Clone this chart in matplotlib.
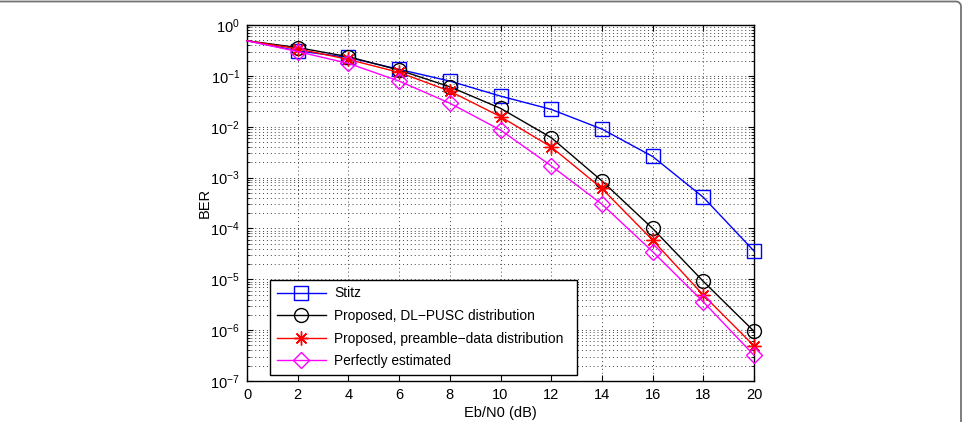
import numpy as np
import matplotlib
matplotlib.use("Agg")
import matplotlib.pyplot as plt
from matplotlib.lines import Line2D
from matplotlib.ticker import LogLocator, NullFormatter, MultipleLocator

plt.rcParams['font.family'] = ['Liberation Sans', 'DejaVu Sans']
plt.rcParams['mathtext.fontset'] = 'custom'
plt.rcParams['mathtext.rm'] = 'Liberation Sans'
plt.rcParams['mathtext.it'] = 'Liberation Sans:italic'

ebn0 = [0, 2, 4, 6, 8, 10, 12, 14, 16, 18, 20]
ber_stitz = [0.49, 0.31, 0.23, 0.134, 0.079, 0.040, 0.0219, 0.0090, 0.0026, 4.1e-4, 3.6e-5]
ber_dlpusc = [0.49, 0.36, 0.238, 0.13, 0.061, 0.023, 0.0061, 8.6e-4, 1.0e-4, 9.1e-6, 9.5e-7]
ber_preamble = [0.49, 0.34, 0.21, 0.117, 0.050, 0.0158, 0.0040, 6.1e-4, 5.9e-5, 4.9e-6, 4.9e-7]
ber_perfect = [0.49, 0.30, 0.176, 0.079, 0.029, 0.0086, 0.0017, 3.0e-4, 3.5e-5, 3.6e-6, 3.2e-7]
labels = ["Stitz", "Proposed, DL\u2212PUSC distribution",
          "Proposed, preamble\u2212data distribution", "Perfectly estimated"]

W, H = 966, 422
fig = plt.figure(figsize=(W / 100, H / 100), dpi=100)
ax = fig.add_axes([247 / W, (H - 381) / H, (754 - 247) / W, (381 - 25) / H])

series = [
    (ber_stitz, (0, 0, 1), 's', 9.5),
    (ber_dlpusc, (0, 0, 0), 'o', 10),
    (ber_preamble, (1, 0, 0), (8, 2, 0), 10),
    (ber_perfect, (1, 0, 1), 'D', 8),
]
for (y, c, m, ms), lab in zip(series, labels):
    ax.semilogy(ebn0, y, color=c, lw=1.0, marker=m, ms=ms, mfc='none', mec=c,
                mew=1.0, markevery=slice(1, None), label=lab, clip_on=False, zorder=3)

ax.set_xlim(0, 20)
ax.set_ylim(1e-7, 1)
ax.xaxis.set_major_locator(MultipleLocator(2))
ax.yaxis.set_major_locator(LogLocator(base=10, numticks=20))
ax.yaxis.set_minor_locator(LogLocator(base=10, subs=np.arange(2, 10), numticks=20))
ax.yaxis.set_minor_formatter(NullFormatter())

ax.grid(True, which='major', axis='both', ls=(0, (1, 3)), lw=0.7, color='0.25')
ax.grid(True, which='minor', axis='y', ls=(0, (1, 3)), lw=0.7, color='0.25')
ax.tick_params(which='both', direction='in', top=True, right=True, labelsize=10.5, pad=5)
ax.tick_params(which='major', length=4, width=0.8)
ax.tick_params(which='minor', length=2.5, width=0.6)
for s in ax.spines.values():
    s.set_linewidth(1.0)

ax.set_xlabel("Eb/N0 (dB)", fontsize=10.5, labelpad=3)
ax.set_ylabel("BER", fontsize=10.5, labelpad=-1)

leg = ax.legend(loc='lower left', bbox_to_anchor=(0.045, 0.017, 0.606, 0.2), mode='expand',
                fontsize=9.9, frameon=True, fancybox=False, edgecolor='black', framealpha=1,
                handlelength=3.6, handletextpad=0.6, labelspacing=0.62,
                borderpad=0.5, borderaxespad=0)
leg.get_frame().set_linewidth(1.0)
leg.set_zorder(5)

# outer rounded border (partial frame of the figure)
r = 5.0
xr, yt = 961.0, 1.5
th = np.linspace(np.pi / 2, 0, 20)
bx = np.concatenate([[0, xr - r], xr - r + r * np.cos(th), [xr]])
by = np.concatenate([[yt, yt], yt + r - r * np.sin(th), [H]])
fig.add_artist(Line2D(bx / W, 1 - by / H, transform=fig.transFigure,
                      color='0.45', lw=1.3))

fig.savefig("out.png", dpi=100)
